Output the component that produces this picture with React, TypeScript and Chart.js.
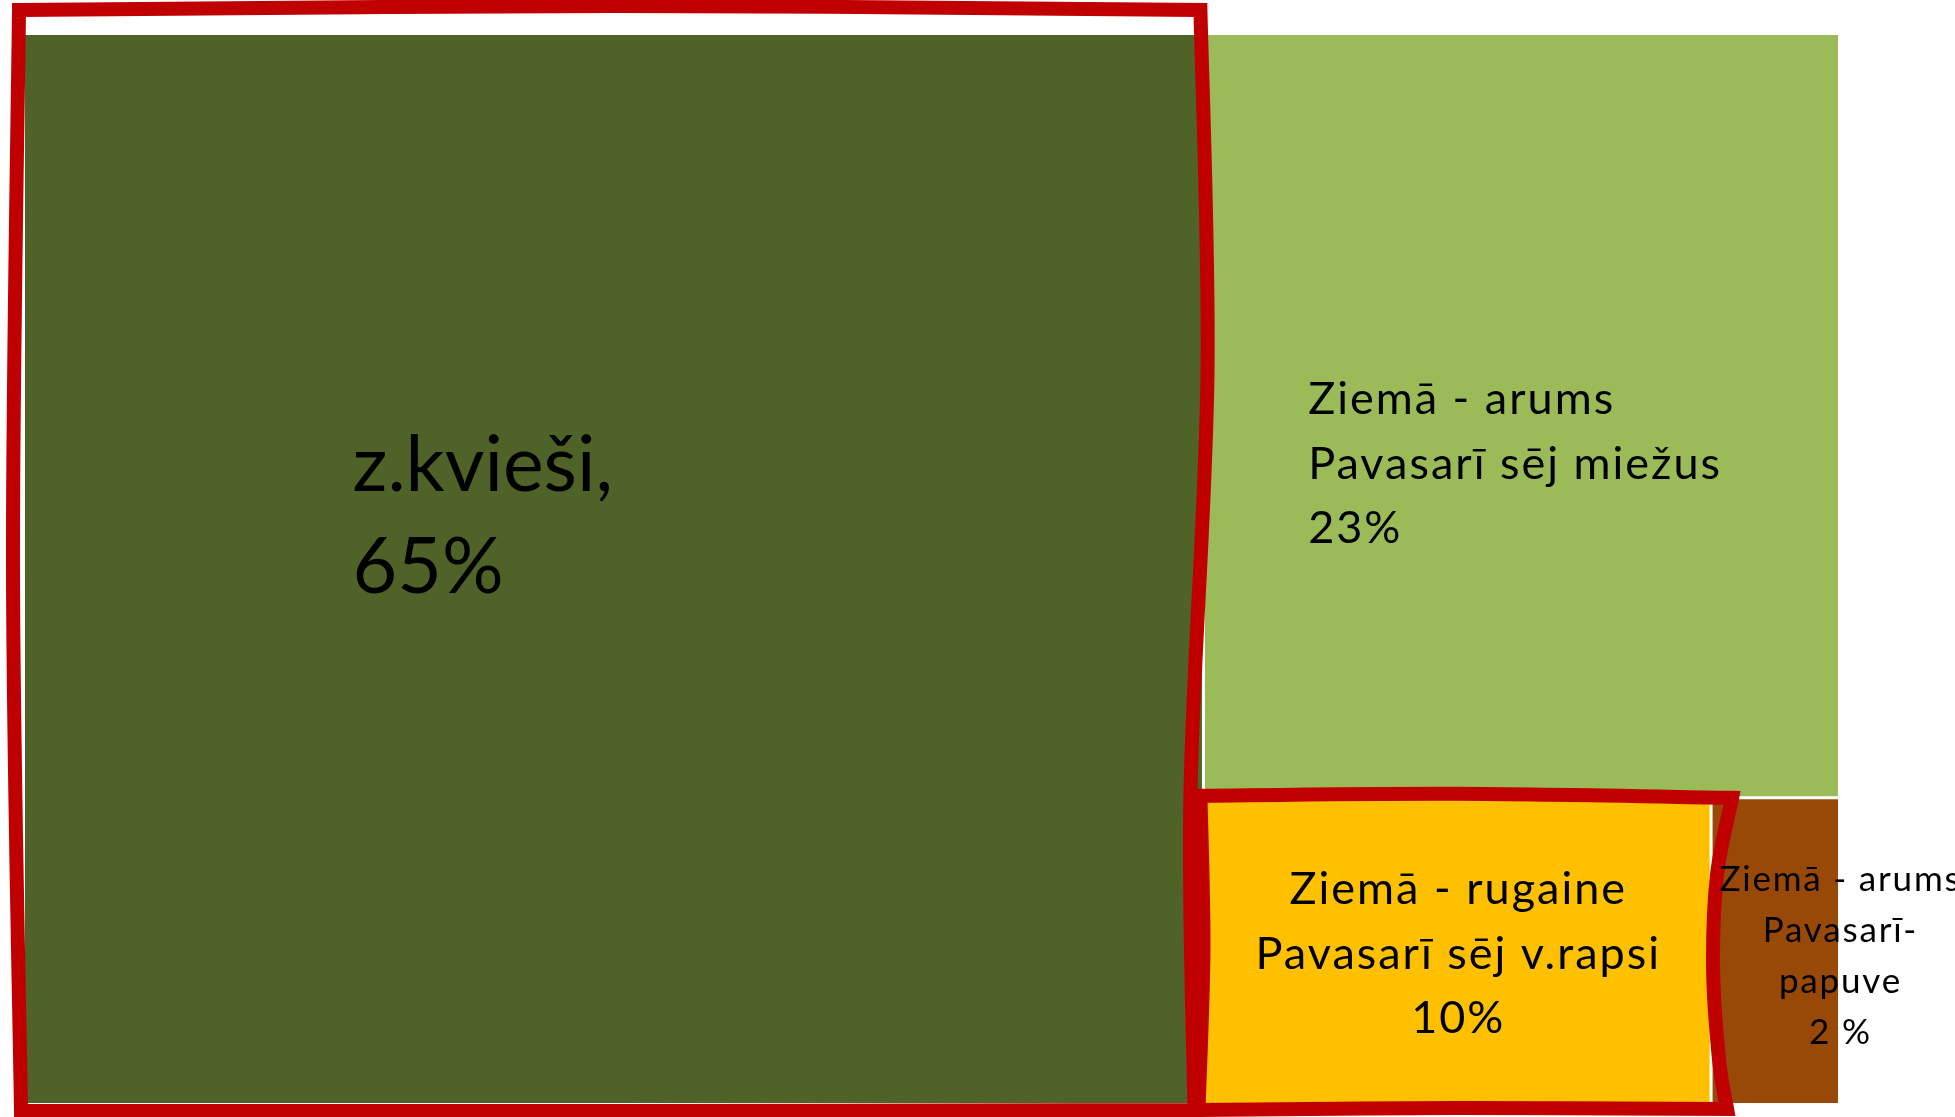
import { useEffect, useRef } from 'react';
import { Chart, registerables } from 'chart.js';

Chart.register(...registerables);

// ---- data ----
const categories = [
  'z.kvieši',
  'Ziemā - arums, Pavasarī sēj miežus',
  'Ziemā - rugaine, Pavasarī sēj v.rapsi',
  'Ziemā - arums, Pavasarī - papuve',
];
const values = [65, 25, 8, 2];
const labelLines = [
  ['z.kvieši,', '65%'],
  ['Ziemā - arums', 'Pavasarī sēj miežus', '23%'],
  ['Ziemā - rugaine', 'Pavasarī sēj v.rapsi', '10%'],
  ['Ziemā - arums', 'Pavasarī-', 'papuve', '2 %'],
];
const colors = ['#4F6228', '#9BBB59', '#FFC000', '#984807'];
const highlighted = [0, 2];

type Cell = { x0: number; x1: number; y0: number; y1: number };

function layout(vals: number[]): Cell[] {
  const total = vals.reduce((a, b) => a + b, 0);
  const w0 = (vals[0] / total) * 100;
  const restTotal = total - vals[0];
  const h1 = (vals[1] / restTotal) * 100;
  const bottomTotal = vals[2] + vals[3];
  const w2 = (vals[2] / bottomTotal) * (100 - w0);
  const yb = 100 - h1;
  return [
    { x0: 0, x1: w0, y0: 0, y1: 100 },
    { x0: w0, x1: 100, y0: yb, y1: 100 },
    { x0: w0, x1: w0 + w2, y0: 0, y1: yb },
    { x0: w0 + w2, x1: 100, y0: 0, y1: yb },
  ];
}

const FONT = 'Lato, "Noto Sans", sans-serif';

// label styles (positions relative to each cell)
const labelStyles = [
  { align: 'left', fx: 0.278, dx: 0, fy: 0.427, size: 77, ls: 0, lh: 102 },
  { align: 'left', fx: 0.165, dx: 0, fy: 0.497, size: 45, ls: 2, lh: 64.5 },
  { align: 'center', fx: 0.5, dx: 0, fy: 0.348, size: 45, ls: 2, lh: 64.5 },
  { align: 'center', fx: 0.5, dx: 65, fy: 0.305, size: 35, ls: 1.8, lh: 51 },
];

// hand-drawn outline shapes: [fx, fy, dx, dy] per point, per side
const outlineShapes: Record<number, number[][][]> = {
  0: [
    [[0, 0, -6, -25], [0.5, 0, 0, -29], [1, 0, -3, -25]],
    [[1, 0, -3, -25], [1, 0.32, 4, 0], [1, 0.71, -13, 0], [1, 1, -9, 7]],
    [[1, 1, -9, 7], [0.5, 1, 0, 8], [0, 1, -4, 8]],
    [[0, 1, -4, 8], [0, 0.5, -12, 0], [0, 0, -6, -25]],
  ],
  2: [
    [[0, 0, -3, -2], [0.5, 0, 0, -4], [1, 0, 21, 0]],
    [[1, 0, 21, 0], [1, 0.25, 6, 0], [1, 0.56, 2, 0], [1, 0.86, 8, 0], [1, 1, 16, 6]],
    [[1, 1, 16, 6], [0.5, 1, 0, 5], [0, 1, -5, 7]],
    [[0, 1, -5, 7], [0, 0.5, 0, 0], [0, 0, -3, -2]],
  ],
};

function smoothSide(ctx: CanvasRenderingContext2D, pts: number[][]) {
  for (let i = 0; i < pts.length - 1; i++) {
    const p0 = pts[i - 1] || pts[i];
    const p1 = pts[i];
    const p2 = pts[i + 1];
    const p3 = pts[i + 2] || p2;
    const c1x = p1[0] + (p2[0] - p0[0]) / 6;
    const c1y = p1[1] + (p2[1] - p0[1]) / 6;
    const c2x = p2[0] - (p3[0] - p1[0]) / 6;
    const c2y = p2[1] - (p3[1] - p1[1]) / 6;
    ctx.bezierCurveTo(c1x, c1y, c2x, c2y, p2[0], p2[1]);
  }
}

export default function App() {
  const ref = useRef<HTMLCanvasElement | null>(null);

  useEffect(() => {
    if (!ref.current) return;
    const cells = layout(values);
    const [c0, c1, c2] = cells;

    const cellSets = cells.map((c, i) => ({
      label: categories[i],
      data: [
        { x: c.x0, y: c.y1 },
        { x: c.x1, y: c.y1 },
      ],
      fill: { value: c.y0 },
      backgroundColor: colors[i],
      borderWidth: 0,
      pointRadius: 0,
      tension: 0,
      order: 1,
    }));

    const sepLines = [
      [{ x: c0.x1, y: 0 }, { x: c0.x1, y: 100 }],
      [{ x: c1.x0, y: c1.y0 }, { x: c1.x1, y: c1.y0 }],
      [{ x: c2.x1, y: 0 }, { x: c2.x1, y: c2.y1 }],
    ];
    const sepSets = sepLines.map((d) => ({
      label: 'sep',
      data: d,
      fill: false,
      borderColor: '#FFFFFF',
      borderWidth: 3,
      pointRadius: 0,
      order: 0,
    }));

    const overlay = {
      id: 'overlay',
      afterDatasetsDraw(chart: any) {
        const { ctx } = chart;
        const xs = chart.scales.x;
        const ys = chart.scales.y;
        const rects = cells.map((c) => ({
          L: xs.getPixelForValue(c.x0),
          R: xs.getPixelForValue(c.x1),
          T: ys.getPixelForValue(c.y1),
          B: ys.getPixelForValue(c.y0),
        }));
        ctx.save();
        // red hand-drawn outlines
        highlighted.forEach((idx) => {
          const r = rects[idx];
          const shape = outlineShapes[idx];
          if (!shape) return;
          const P = (p: number[]) => [
            r.L + p[0] * (r.R - r.L) + p[2],
            r.T + p[1] * (r.B - r.T) + p[3],
          ];
          ctx.beginPath();
          const start = P(shape[0][0]);
          ctx.moveTo(start[0], start[1]);
          shape.forEach((side) => smoothSide(ctx, side.map(P)));
          ctx.closePath();
          ctx.strokeStyle = '#C00000';
          ctx.lineWidth = 14;
          ctx.lineJoin = 'miter';
          ctx.lineCap = 'round';
          ctx.stroke();
        });
        // labels
        const hasLS = 'letterSpacing' in ctx;
        labelLines.forEach((lines, i) => {
          const r = rects[i];
          const st = labelStyles[i];
          ctx.fillStyle = '#000000';
          const size = hasLS ? st.size : st.size * (1 + st.ls / 20);
          ctx.font = `${size}px ${FONT}`;
          if (hasLS) (ctx as any).letterSpacing = `${st.ls}px`;
          ctx.textAlign = st.align;
          ctx.textBaseline = 'alphabetic';
          const x = r.L + st.fx * (r.R - r.L) + st.dx + (st.align === 'center' && hasLS ? st.ls / 2 : 0);
          const y0 = r.T + st.fy * (r.B - r.T);
          lines.forEach((line, k) => ctx.fillText(line, x, y0 + k * st.lh));
        });
        if (hasLS) (ctx as any).letterSpacing = '0px';
        ctx.restore();
      },
    };

    const chart = new Chart(ref.current, {
      type: 'line',
      data: { datasets: [...sepSets, ...cellSets] as any },
      options: {
        animation: false,
        responsive: false,
        layout: { padding: { left: 25, right: 117, top: 35, bottom: 14 } },
        scales: {
          x: { type: 'linear', min: 0, max: 100, display: false },
          y: { type: 'linear', min: 0, max: 100, display: false },
        },
        plugins: {
          legend: { display: false },
          tooltip: { enabled: false },
        },
      } as any,
      plugins: [overlay],
    });
    return () => chart.destroy();
  }, []);

  return (
    <div style={{ position: 'absolute', left: 0, top: 0, width: 1955, height: 1117, background: '#fff' }}>
      <canvas ref={ref} width={1955} height={1117} style={{ display: 'block', width: 1955, height: 1117 }} />
    </div>
  );
}
